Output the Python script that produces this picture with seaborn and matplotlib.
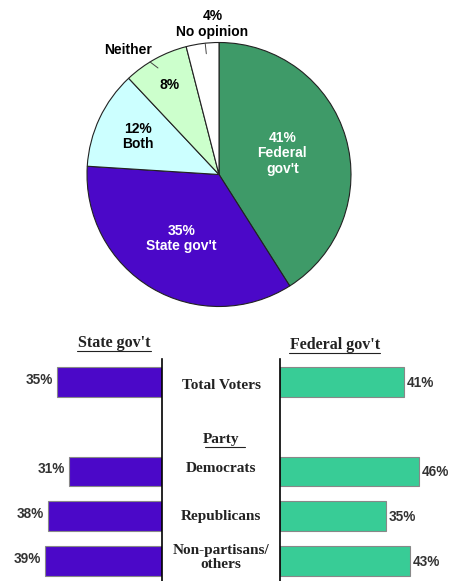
import matplotlib
matplotlib.use("Agg")
import matplotlib.pyplot as plt
import matplotlib.transforms as mtrans
import seaborn as sns
import pandas as pd
import numpy as np

# ---- data ----
pie_labels = ["Federal\ngov't", "State gov't", "Both", "Neither", "No opinion"]
pie_values = [41, 35, 12, 8, 4]
pie_colors = ["#3E9A68", "#4B08C8", "#CCFFFF", "#CCFFCC", "#FFFFFF"]

groups = ["Total Voters", "Democrats", "Republicans", "Non-partisans/\nothers"]
state_vals = [35, 31, 38, 39]
federal_vals = [41, 46, 35, 43]
order = ["Total Voters", "Party", "Democrats", "Republicans", "Non-partisans/\nothers"]

sns.set_theme(style="white")
plt.rcParams["font.family"] = ["Liberation Sans", "DejaVu Sans"]

W, H = 453, 581
fig = plt.figure(figsize=(W / 100, H / 100), dpi=100)
fig.patch.set_facecolor("white")

def px_rect(x0, y0, x1, y1):
    return [x0 / W, 1 - y1 / H, (x1 - x0) / W, (y1 - y0) / H]

# ---- pie ----
cx, cy, r = 219, 174.5, 132
axp = fig.add_axes(px_rect(cx - r, cy - r, cx + r, cy + r))
wedges, _ = axp.pie(pie_values, colors=pie_colors, startangle=90, counterclock=False,
                    radius=1, wedgeprops=dict(edgecolor="#222222", linewidth=0.8))
axp.set_xlim(-1, 1)
axp.set_ylim(-1, 1)
axp.axis("off")

total = sum(pie_values)
angles = []
a = 90.0
for v in pie_values:
    span = 360.0 * v / total
    angles.append(a - span / 2)
    a -= span

def pol(ang, rr):
    t = np.deg2rad(ang)
    return rr * np.cos(t), rr * np.sin(t)

bold = dict(fontweight="bold", fontsize=10, ha="center", va="center", linespacing=1.1)
x, y = pol(angles[0], 0.50)
axp.text(x, y + 0.02, f"{pie_values[0]}%\n{pie_labels[0]}", color="white", **bold)
x, y = pol(angles[1], 0.56)
axp.text(x, y, f"{pie_values[1]}%\n{pie_labels[1]}", color="white", **bold)
x, y = pol(angles[2], 0.68)
axp.text(x, y, f"{pie_values[2]}%\n{pie_labels[2]}", color="black", **bold)
x, y = pol(angles[3], 0.77)
axp.text(x, y, f"{pie_values[3]}%", color="black", **bold)
x, y = pol(126, 1.17)
axp.text(x, y, pie_labels[3], color="black", **bold)
x1, y1 = pol(121.5, 1.0); x2, y2 = pol(119.8, 0.93)
axp.plot([x1, x2], [y1, y2], color="#444444", lw=0.7, clip_on=False)
axp.text(-0.05, 1.14, f"{pie_values[4]}%\n{pie_labels[4]}", color="black", **bold)
x1, y1 = pol(96, 1.0); x2, y2 = pol(96, 0.92)
axp.plot([x1, x2], [y1, y2], color="#444444", lw=0.7, clip_on=False)

# ---- bars ----
df = pd.DataFrame({"group": groups, "state": state_vals, "federal": federal_vals})
ylim = (4.444, -0.511)
top_px = 359

axl = fig.add_axes(px_rect(0, top_px, 162, H))
sns.barplot(data=df, x="state", y="group", order=order, orient="h", color="#4B08C8",
            saturation=1, width=0.667, edgecolor="#888888", linewidth=0.8, ax=axl)
axl.set_xlim(54, 0)
axl.set_ylim(*ylim)

axr = fig.add_axes(px_rect(280, top_px, 453, H))
sns.barplot(data=df, x="federal", y="group", order=order, orient="h", color="#38CC96",
            saturation=1, width=0.667, edgecolor="#888888", linewidth=0.8, ax=axr)
axr.set_xlim(0, 173 / 3.02)
axr.set_ylim(*ylim)

for ax, side in ((axl, "right"), (axr, "left")):
    for s in ax.spines:
        ax.spines[s].set_visible(s == side)
    ax.spines[side].set_color("black")
    ax.spines[side].set_linewidth(1.2)
    ax.set_xticks([]); ax.set_yticks([])
    ax.set_xlabel(""); ax.set_ylabel("")
    ax.set_facecolor("none")

ypos = {g: order.index(g) for g in groups}
for g, v in zip(groups, state_vals):
    axl.text(v + 1.3, ypos[g] - 0.05, f"{v}%", ha="right", va="center", fontsize=9.8,
             fontweight="bold", color="#333333")
for g, v in zip(groups, federal_vals):
    axr.text(v + 1.0, ypos[g] + 0.02, f"{v}%", ha="left", va="center", fontsize=9.8,
             fontweight="bold", color="#333333")

serif = ["Liberation Serif", "DejaVu Serif"]
tr = mtrans.blended_transform_factory(fig.transFigure, axr.transData)
mid_x = 221 / W
offsets = {"Total Voters": 0.09, "Democrats": -0.07, "Republicans": 0.0,
           "Non-partisans/\nothers": -0.08}
for g in groups:
    axr.text(mid_x, ypos[g] + offsets[g], g, transform=tr, ha="center", va="center",
             fontsize=11, fontweight="bold", family=serif, color="#222222",
             linespacing=1.05, clip_on=False)
fig.text(mid_x, 1 - 440 / H, "Party", ha="center", va="center", fontsize=11,
         fontweight="bold", family=serif, color="#222222")
fig.add_artist(plt.Line2D([205 / W, 245 / W], [1 - 447 / H, 1 - 447 / H], color="#222222", lw=0.8))

fig.text(114 / W, 1 - 343 / H, "State gov't", ha="center", va="center", fontsize=11.5,
         fontweight="bold", family=serif, color="#222222")
fig.add_artist(plt.Line2D([77 / W, 151 / W], [1 - 351 / H, 1 - 351 / H], color="#222222", lw=0.8))
fig.text(335 / W, 1 - 345 / H, "Federal gov't", ha="center", va="center", fontsize=11.5,
         fontweight="bold", family=serif, color="#222222")
fig.add_artist(plt.Line2D([289 / W, 380 / W], [1 - 353 / H, 1 - 353 / H], color="#222222", lw=0.8))

fig.savefig("out.png", dpi=100, facecolor="white")
